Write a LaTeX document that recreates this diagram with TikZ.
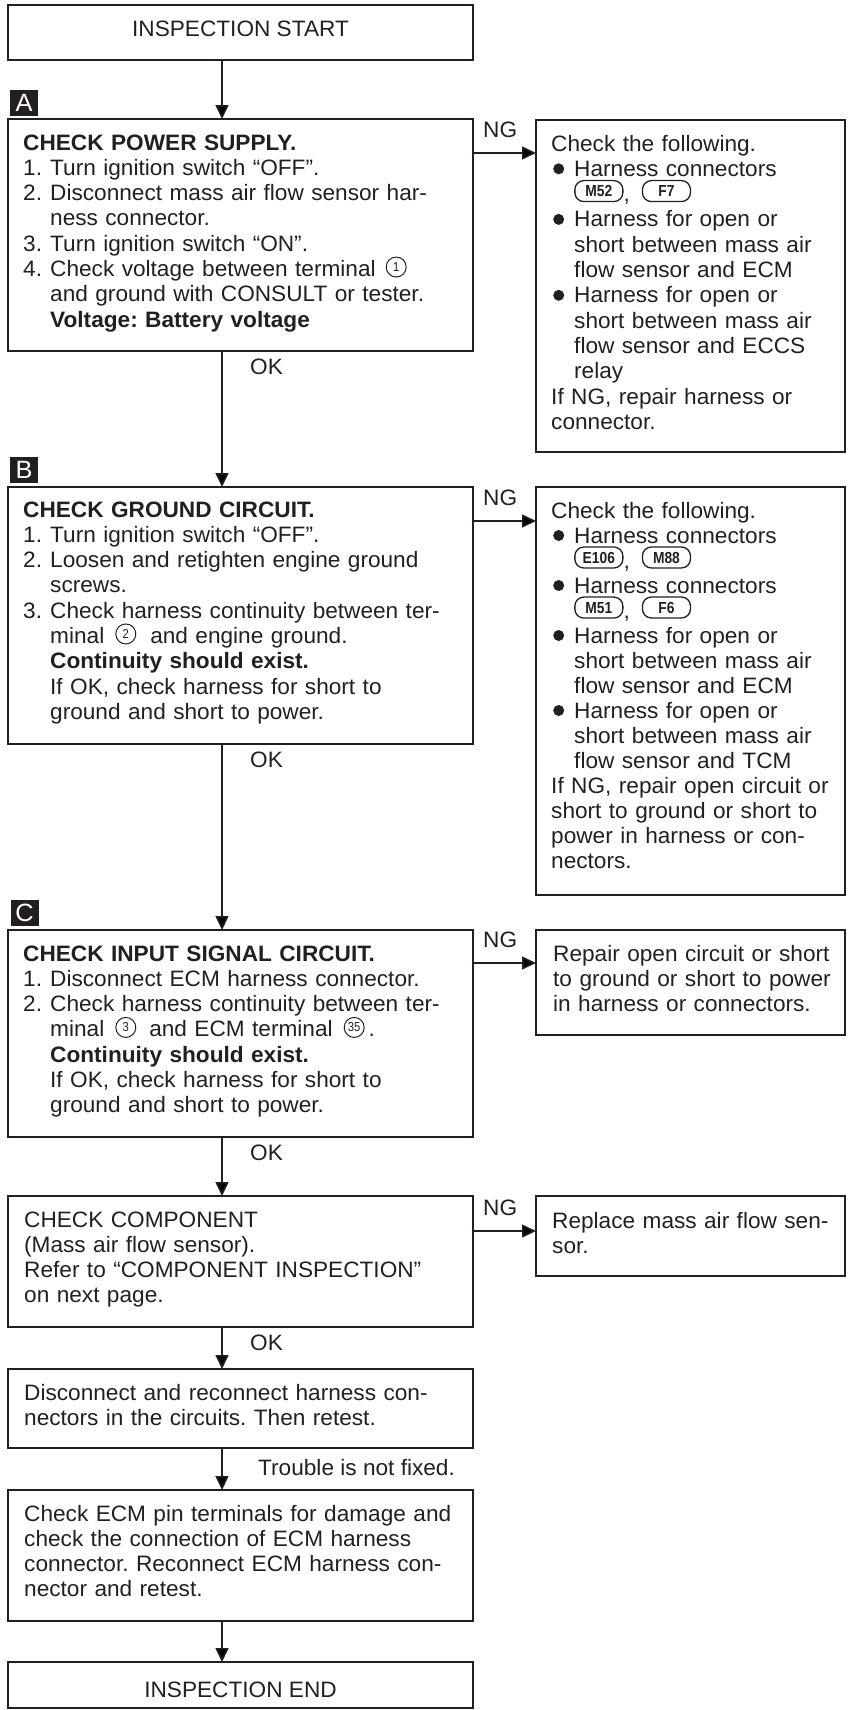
\documentclass[tikz,border=0pt]{standalone}
\usepackage{graphicx}
\usepackage{fontspec}
\setmainfont[FakeStretch=1.015]{Liberation Sans}
\usetikzlibrary{arrows.meta}
\definecolor{ink}{RGB}{35,31,32}
\frenchspacing
\newcommand{\circnum}[1]{\tikz[baseline=-5pt]\node[circle,draw=ink,line width=1pt,inner sep=0pt,minimum size=20pt,text width={},text=ink,font=\fontsize{13}{13}\selectfont]{\scalebox{0.85}[1]{#1}};}
\newcommand{\harn}[1]{\tikz[baseline=-5pt]\node[draw=ink,line width=1.3pt,rounded corners=9pt,minimum width=48pt,minimum height=21pt,inner sep=0pt,text width={},text=ink,font=\bfseries\fontsize{16}{16}\selectfont]{\scalebox{0.85}[1]{#1}};}
\newcommand{\bulletmark}{\tikz[baseline=0pt]{\useasboundingbox (0pt,0pt) rectangle (23pt,8pt); \fill[ink] (7.5pt,7.5pt) circle (5.5pt);}}
\newcommand{\hind}{\hspace*{27pt}}
\newcommand{\rind}{\hspace*{23pt}}
\newcommand{\stepnum}[1]{\makebox[27pt][l]{#1}}
\tikzset{
  flowbox/.style={draw=ink, line width=1.6pt, rectangle, inner sep=0pt, outer sep=0pt},
  boxtext/.style={anchor=base west, inner sep=0pt, align=left, text=ink, font=\fontsize{22.3}{25.3}\selectfont},
  flowlabel/.style={anchor=base west, inner sep=0pt, text=ink, font=\fontsize{22.3}{25.3}\selectfont},
  flowarrow/.style={draw=ink, line width=1.6pt, -{Triangle[length=14pt,width=13pt]}},
  letterbox/.style={fill=ink, text=white, minimum width=28pt, minimum height=26pt, inner sep=0pt, font=\fontsize{25}{25}\selectfont},
  leftbox/.style={flowbox, minimum width=465pt},
  rightbox/.style={flowbox, minimum width=309pt},
}
\begin{document}
\begin{tikzpicture}[x=1pt,y=-1pt]
\useasboundingbox (0,0) rectangle (850,1710);
% left column boxes
\node[leftbox, minimum height=55pt] (start) at (240.5,32.5) {};
\node[leftbox, minimum height=232pt] (A) at (240.5,235) {};
\node[leftbox, minimum height=257pt] (B) at (240.5,615.5) {};
\node[leftbox, minimum height=207pt] (C) at (240.5,1033.5) {};
\node[leftbox, minimum height=131pt] (D) at (240.5,1261.5) {};
\node[leftbox, minimum height=79pt] (E) at (240.5,1408.5) {};
\node[leftbox, minimum height=131pt] (F) at (240.5,1555.5) {};
\node[leftbox, minimum height=46pt] (endb) at (240.5,1685) {};
% right column boxes
\node[rightbox, minimum height=332pt] (RA) at (690.5,286) {};
\node[rightbox, minimum height=408pt] (RB) at (690.5,691) {};
\node[rightbox, minimum height=105pt] (RC) at (690.5,982.5) {};
\node[rightbox, minimum height=80pt] (RD) at (690.5,1236) {};
% letter marks
\node[letterbox] (labA) at (24,103) {A};
\node[letterbox] (labB) at (24,470) {B};
\node[letterbox] (labC) at (24.5,912.5) {C};
% texts
\node[flowlabel, anchor=base] (startt) at (240.5,37) {INSPECTION START};
\node[flowlabel, anchor=base] (endt) at (240.5,1697) {INSPECTION END};
\node[boxtext, text width=445pt] (At) at (23,150) {%
\textbf{CHECK POWER SUPPLY.}\\
\stepnum{1.}Turn ignition switch “OFF”.\\
\stepnum{2.}Disconnect mass air flow sensor har-\\
\hind ness connector.\\
\stepnum{3.}Turn ignition switch “ON”.\\
\stepnum{4.}Check voltage between terminal\hspace{10pt}\circnum{1}\\
\hind and ground with CONSULT or tester.\\
\hind\textbf{Voltage: Battery voltage}};
\node[boxtext, text width=292pt] (RAt) at (551,151) {%
Check the following.\\
\bulletmark Harness connectors\\
\rind\harn{M52},\hspace{12pt}\harn{F7}\\
\bulletmark Harness for open or\\
\rind short between mass air\\
\rind flow sensor and ECM\\
\bulletmark Harness for open or\\
\rind short between mass air\\
\rind flow sensor and ECCS\\
\rind relay\\
If NG, repair harness or\\
connector.};
\node[boxtext, text width=445pt] (Bt) at (23,517) {%
\textbf{CHECK GROUND CIRCUIT.}\\
\stepnum{1.}Turn ignition switch “OFF”.\\
\stepnum{2.}Loosen and retighten engine ground\\
\hind screws.\\
\stepnum{3.}Check harness continuity between ter-\\
\hind minal\hspace{11pt}\circnum{2}\hspace{14pt}and engine ground.\\
\hind\textbf{Continuity should exist.}\\
\hind If OK, check harness for short to\\
\hind ground and short to power.};
\node[boxtext, text width=292pt, font=\fontsize{22.3}{25.0}\selectfont] (RBt) at (551,518) {%
Check the following.\\
\bulletmark Harness connectors\\
\rind\harn{E106},\hspace{12pt}\harn{M88}\\
\bulletmark Harness connectors\\
\rind\harn{M51},\hspace{12pt}\harn{F6}\\
\bulletmark Harness for open or\\
\rind short between mass air\\
\rind flow sensor and ECM\\
\bulletmark Harness for open or\\
\rind short between mass air\\
\rind flow sensor and TCM\\
If NG, repair open circuit or\\
short to ground or short to\\
power in harness or con-\\
nectors.};
\node[boxtext, text width=445pt] (Ct) at (23,961) {%
\textbf{CHECK INPUT SIGNAL CIRCUIT.}\\
\stepnum{1.}Disconnect ECM harness connector.\\
\stepnum{2.}Check harness continuity between ter-\\
\hind minal\hspace{11pt}\circnum{3}\hspace{13pt}and ECM terminal\hspace{11pt}\circnum{35}\hspace{4pt}.\\
\hind\textbf{Continuity should exist.}\\
\hind If OK, check harness for short to\\
\hind ground and short to power.};
\node[boxtext, text width=292pt] (RCt) at (553,961) {%
Repair open circuit or short\\
to ground or short to power\\
in harness or connectors.};
\node[boxtext, text width=445pt] (Dt) at (24,1227) {%
CHECK COMPONENT\\
(Mass air flow sensor).\\
Refer to “COMPONENT INSPECTION”\\
on next page.};
\node[boxtext, text width=292pt] (RDt) at (552,1228) {%
Replace mass air flow sen-\\
sor.};
\node[boxtext, text width=445pt] (Et) at (24,1400) {%
Disconnect and reconnect harness con-\\
nectors in the circuits. Then retest.};
\node[boxtext, text width=445pt] (Ft) at (24,1521) {%
Check ECM pin terminals for damage and\\
check the connection of ECM harness\\
connector. Reconnect ECM harness con-\\
nector and retest.};
% connector labels
\node[flowlabel] (ngAt) at (483,137) {NG};
\node[flowlabel] (ngBt) at (483,505) {NG};
\node[flowlabel] (ngCt) at (483,947) {NG};
\node[flowlabel] (ngDt) at (483,1215) {NG};
\node[flowlabel] (okAt) at (250,374) {OK};
\node[flowlabel] (okBt) at (250,767) {OK};
\node[flowlabel] (okCt) at (250,1160) {OK};
\node[flowlabel] (okDt) at (250,1350) {OK};
\node[flowlabel] (trt) at (258,1475) {Trouble is not fixed.};
% connectors
\coordinate (ax) at (222,0);
\coordinate (ngA) at (0,153);
\coordinate (ngB) at (0,521);
\coordinate (ngC) at (0,963);
\coordinate (ngD) at (0,1231);
\draw[flowarrow] (start.south -| ax) -- (A.north -| ax);
\draw[flowarrow] (A.south -| ax) -- (B.north -| ax);
\draw[flowarrow] (B.south -| ax) -- (C.north -| ax);
\draw[flowarrow] (C.south -| ax) -- (D.north -| ax);
\draw[flowarrow] (D.south -| ax) -- (E.north -| ax);
\draw[flowarrow] (E.south -| ax) -- (F.north -| ax);
\draw[flowarrow] (F.south -| ax) -- (endb.north -| ax);
\draw[flowarrow] (A.east |- ngA) -- (RA.west |- ngA);
\draw[flowarrow] (B.east |- ngB) -- (RB.west |- ngB);
\draw[flowarrow] (C.east |- ngC) -- (RC.west |- ngC);
\draw[flowarrow] (D.east |- ngD) -- (RD.west |- ngD);
\end{tikzpicture}
\end{document}
